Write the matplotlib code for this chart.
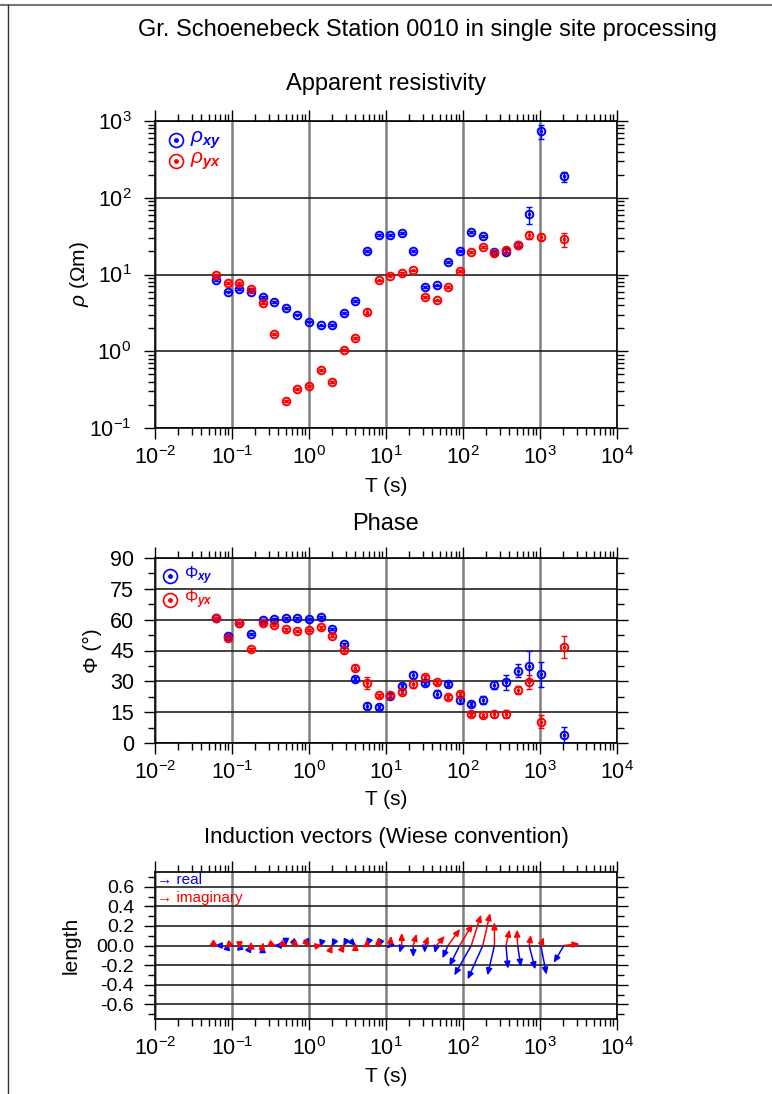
import numpy as np
import matplotlib
matplotlib.use("Agg")
import matplotlib.pyplot as plt
from matplotlib.ticker import LogLocator, NullFormatter, FuncFormatter, MultipleLocator, FixedLocator, FixedFormatter
from matplotlib.lines import Line2D

plt.rcParams['font.family'] = ['Liberation Sans', 'DejaVu Sans']
plt.rcParams['mathtext.fontset'] = 'custom'
plt.rcParams['mathtext.rm'] = 'Liberation Sans'
plt.rcParams['mathtext.it'] = 'Liberation Sans:italic'
plt.rcParams['mathtext.bf'] = 'Liberation Sans:bold'
if 'mathtext.bfit' in plt.rcParams:
    plt.rcParams['mathtext.bfit'] = 'Liberation Sans:italic:bold'
plt.rcParams['axes.unicode_minus'] = False

# periods (s)
period = [0.0625, 0.0884, 0.125, 0.177, 0.25, 0.354, 0.5, 0.707, 1.0, 1.414,
          2.0, 2.83, 4.0, 5.66, 8.0, 11.3, 16.0, 22.6, 32.0, 45.3,
          64.0, 90.5, 128.0, 181.0, 256.0, 362.0, 512.0, 724.0, 1024.0, 2048.0]

# apparent resistivity (Ohm m)
rho_xy = [8.5, 6.0, 6.5, 6.0, 5.1, 4.4, 3.66, 3.0, 2.43, 2.18,
          2.2, 3.18, 4.5, 20.2, 32.7, 32.7, 35.0, 20.2, 6.9, 7.2,
          14.4, 20.0, 36.0, 31.5, 19.5, 19.8, 24.4, 61.0, 740.0, 190.0]
rho_xy_err = [0.2, 0.15, 0.15, 0.15, 0.12, 0.1, 0.08, 0.07, 0.06, 0.05,
              0.05, 0.08, 0.1, 0.6, 1.0, 1.0, 1.0, 0.6, 0.2, 0.2,
              0.4, 0.6, 1.0, 1.0, 0.6, 1.5, 1.2, 15.0, 155.0, 28.0]
rho_yx = [10.0, 7.8, 7.8, 6.5, 4.2, 1.66, 0.223, 0.32, 0.352, 0.565,
          0.40, 1.03, 1.5, 3.27, 8.4, 9.7, 10.6, 11.3, 5.05, 4.6,
          6.9, 11.2, 19.5, 22.6, 18.9, 21.1, 24.0, 32.5, 30.8, 29.0]
rho_yx_err = [0.25, 0.2, 0.2, 0.15, 0.1, 0.05, 0.006, 0.008, 0.009, 0.015,
              0.01, 0.03, 0.04, 0.25, 0.2, 0.25, 0.3, 0.3, 0.15, 0.12,
              0.2, 0.3, 0.5, 0.6, 0.6, 1.5, 1.5, 3.5, 3.0, 6.0]

# phase (deg)
phi_xy = [60.7, 52.2, 58.5, 52.9, 59.7, 60.5, 60.8, 61.0, 60.2, 61.2,
          55.5, 48.0, 31.3, 18.0, 17.4, 22.9, 27.6, 33.1, 29.0, 24.0,
          28.9, 20.8, 19.1, 21.1, 28.2, 29.5, 35.2, 37.6, 33.4, 3.9]
phi_xy_err = [0.5, 0.8, 0.5, 0.5, 0.5, 0.5, 0.5, 0.5, 0.5, 0.5,
              0.6, 0.8, 1.0, 1.5, 1.0, 0.8, 1.0, 1.6, 0.8, 1.6,
              1.0, 1.2, 1.0, 2.0, 1.8, 3.8, 3.2, 7.3, 6.2, 3.8]
phi_yx = [60.7, 51.2, 58.5, 45.6, 58.2, 57.4, 55.3, 54.5, 55.1, 56.3,
          52.2, 45.1, 36.6, 29.2, 23.2, 23.2, 25.0, 28.7, 32.1, 29.5,
          22.4, 23.7, 14.0, 13.8, 14.3, 14.1, 25.6, 29.7, 10.4, 46.7]
phi_yx_err = [0.5, 0.8, 0.5, 0.6, 0.6, 0.6, 0.6, 0.6, 0.6, 0.6,
              0.8, 1.5, 1.2, 3.0, 0.8, 1.0, 1.0, 1.8, 0.8, 0.8,
              0.8, 1.0, 0.8, 1.2, 1.5, 2.0, 2.0, 3.2, 3.0, 5.4]

# induction vectors (horizontal / vertical component, length units)
re_dx = [-0.017, 0.007, -0.007, 0.005, 0.0, -0.005, 0.0, 0.005, 0.005, -0.007,
         -0.007, -0.005, 0.007, -0.003, -0.007, -0.034, -0.023, 0.0, -0.003, -0.017,
         -0.058, -0.105, -0.173, -0.155, -0.071, 0.02, 0.034, 0.061, 0.058, -0.105]
re_dy = [0.0, 0.03, 0.034, 0.01, 0.005, 0.0, -0.005, -0.005, -0.01, -0.02,
         -0.013, -0.01, -0.007, -0.007, -0.014, -0.03, -0.075, -0.12, -0.075, -0.078,
         -0.13, -0.21, -0.305, -0.345, -0.305, -0.237, -0.217, -0.244, -0.298, -0.176]
im_dx = [0.02, -0.027, 0.0, -0.003, 0.007, 0.02, 0.02, 0.02, 0.013, 0.02,
         0.003, 0.007, 0.0, 0.0, 0.0, 0.01, 0.0, 0.034, 0.037, 0.085,
         0.122, 0.132, 0.10, 0.074, 0.0, 0.037, -0.007, 0.017, 0.03, 0.16]
im_dy = [-0.014, -0.027, -0.04, 0.04, 0.034, -0.01, -0.01, -0.017, -0.013, 0.003,
         0.007, 0.014, 0.027, 0.068, 0.088, 0.10, 0.13, 0.12, 0.095, 0.098,
         0.17, 0.22, 0.315, 0.33, 0.237, 0.163, 0.163, 0.108, 0.085, 0.017]

BLUE = '#0000ff'
RED = '#ff0000'
W, H = 772, 1094
TICK_FS = 15.5
LABEL_FS = 15

fig = plt.figure(figsize=(W / 100, H / 100), dpi=100)

# page frame (top and left edge)
fig.add_artist(Line2D([0, 1], [1 - 5 / H, 1 - 5 / H], color='#777777', lw=1.5))
fig.add_artist(Line2D([8 / W, 8 / W], [0, 1 - 5 / H], color='#333333', lw=1.0))


def px_axes(left, top, right, bottom):
    return fig.add_axes([left / W, 1 - bottom / H, (right - left) / W, (bottom - top) / H])


def decade_label(v, p):
    return r'$\mathregular{10^{%d}}$' % round(np.log10(v))


def style_log_x(ax):
    ax.set_xscale('log')
    ax.set_xlim(1e-2, 1e4)
    ax.xaxis.set_major_locator(LogLocator(base=10, numticks=10))
    ax.xaxis.set_minor_locator(LogLocator(base=10, subs=np.arange(2, 10), numticks=100))
    ax.xaxis.set_minor_formatter(NullFormatter())
    ax.xaxis.set_major_formatter(FuncFormatter(decade_label))
    ax.tick_params(which='both', direction='out', top=True, right=True, labelsize=TICK_FS, width=1.0)
    ax.tick_params(which='major', length=8, pad=5)
    ax.tick_params(which='minor', length=5)
    ax.tick_params(axis='y', which='major', pad=7)
    for s in ax.spines.values():
        s.set_linewidth(1.2)
    ax.grid(True, which='major', axis='x', color='#808080', lw=1.8)
    ax.grid(True, which='major', axis='y', color='#222222', lw=1.2)
    ax.set_axisbelow(True)
    ax.set_xlabel('T (s)', fontsize=LABEL_FS)


def points(ax, x, y, err, color):
    ax.errorbar(x, y, yerr=err, fmt='none', ecolor=color, elinewidth=1.0, capsize=2, capthick=1.0, zorder=3)
    ax.plot(x, y, 'o', mfc='none', mec=color, ms=5.5, mew=1.4, ls='none', zorder=4)
    ax.plot(x, y, 'o', color=color, ms=1.6, ls='none', zorder=4)


def legend_entry(ax, x, y, label, color, fs):
    ax.plot([x], [y], 'o', mfc='none', mec=color, ms=10, mew=1.2, transform=ax.transAxes, clip_on=False, zorder=5)
    ax.plot([x], [y], 'o', color=color, ms=2.5, transform=ax.transAxes, clip_on=False, zorder=5)
    ax.text(x + 0.03, y, label, color=color, fontsize=fs, transform=ax.transAxes, va='center', ha='left')


fig.text(427 / W, 1 - 30 / H, 'Gr. Schoenebeck Station 0010 in single site processing',
         fontsize=17, ha='center', va='center')

# --- apparent resistivity ---
ax1 = px_axes(155, 121, 617, 428)
style_log_x(ax1)
ax1.set_yscale('log')
ax1.set_ylim(0.1, 1000)
ax1.yaxis.set_major_locator(LogLocator(base=10, numticks=10))
ax1.yaxis.set_minor_locator(LogLocator(base=10, subs=np.arange(2, 10), numticks=100))
ax1.yaxis.set_minor_formatter(NullFormatter())
ax1.yaxis.set_major_formatter(FuncFormatter(decade_label))
ax1.tick_params(axis='y', which='major', pad=9)
points(ax1, period, rho_xy, rho_xy_err, BLUE)
points(ax1, period, rho_yx, rho_yx_err, RED)
ax1.set_ylabel(r'$\rho$ (Ωm)', fontsize=LABEL_FS)
ax1.yaxis.set_label_coords(-0.139, 0.5)
ax1.xaxis.set_label_coords(0.5, -0.16)
legend_entry(ax1, 0.045, 0.938, r'$\rho_{\mathbfit{xy}}$', BLUE, 15)
legend_entry(ax1, 0.045, 0.869, r'$\rho_{\mathbfit{yx}}$', RED, 15)
fig.text(386 / W, 1 - 84 / H, 'Apparent resistivity', fontsize=17, ha='center', va='center')

# --- phase ---
ax2 = px_axes(155, 558, 617, 743)
style_log_x(ax2)
ax2.set_ylim(0, 90)
ax2.yaxis.set_major_locator(MultipleLocator(15))
ax2.yaxis.set_minor_locator(MultipleLocator(7.5))
points(ax2, period, phi_xy, phi_xy_err, BLUE)
points(ax2, period, phi_yx, phi_yx_err, RED)
ax2.set_ylabel('Φ (°)', fontsize=LABEL_FS)
ax2.yaxis.set_label_coords(-0.115, 0.5)
ax2.xaxis.set_label_coords(0.5, -0.254)
legend_entry(ax2, 0.032, 0.905, r'$\Phi_{\mathbfit{xy}}$', BLUE, 12)
legend_entry(ax2, 0.032, 0.772, r'$\Phi_{\mathbfit{yx}}$', RED, 12)
fig.text(386 / W, 1 - 524 / H, 'Phase', fontsize=17, ha='center', va='center')

# --- induction vectors ---
ax3 = px_axes(155, 872, 617, 1019)
style_log_x(ax3)
ax3.set_ylim(-0.75, 0.75)
ind_ticks = [-0.6, -0.4, -0.2, 0.0, 0.2, 0.4, 0.6]
ind_labels = ['-0.6', '-0.4', '-0.2', '00.0', '0.2', '0.4', '0.6']
ax3.yaxis.set_major_locator(FixedLocator(ind_ticks))
ax3.yaxis.set_major_formatter(FixedFormatter(ind_labels))
ax3.yaxis.set_minor_locator(MultipleLocator(0.1))
ax3.tick_params(axis='y', labelsize=14)
ax3.set_ylabel('length', fontsize=LABEL_FS)
ax3.yaxis.set_label_coords(-0.16, 0.5)
ax3.xaxis.set_label_coords(0.5, -0.327)

# horizontal arrow components drawn with the same pixel scale as the vertical axis
pos = ax3.get_position()
decade_px = pos.width * W / 6.0
unit_px = pos.height * H / 1.5
k = unit_px / decade_px
for i, t in enumerate(period):
    for dx, dy, col in ((re_dx[i], re_dy[i], BLUE), (im_dx[i], im_dy[i], RED)):
        tip = (t * 10 ** (dx * k), dy)
        ax3.annotate('', xy=tip, xytext=(t, 0.0),
                     arrowprops=dict(arrowstyle='-|>,head_length=0.45,head_width=0.2',
                                     color=col, lw=1.1, shrinkA=0, shrinkB=0,
                                     mutation_scale=9), zorder=4)
ax3.text(0.005, 0.946, '→ real', color=BLUE, fontsize=11, transform=ax3.transAxes, va='center',
         family=['Liberation Sans', 'DejaVu Sans'])
ax3.text(0.005, 0.823, '→ imaginary', color=RED, fontsize=11, transform=ax3.transAxes, va='center',
         family=['Liberation Sans', 'DejaVu Sans'])
fig.text(386 / W, 1 - 838 / H, 'Induction vectors (Wiese convention)', fontsize=16, ha='center', va='center')

fig.savefig('out.png', dpi=100)
